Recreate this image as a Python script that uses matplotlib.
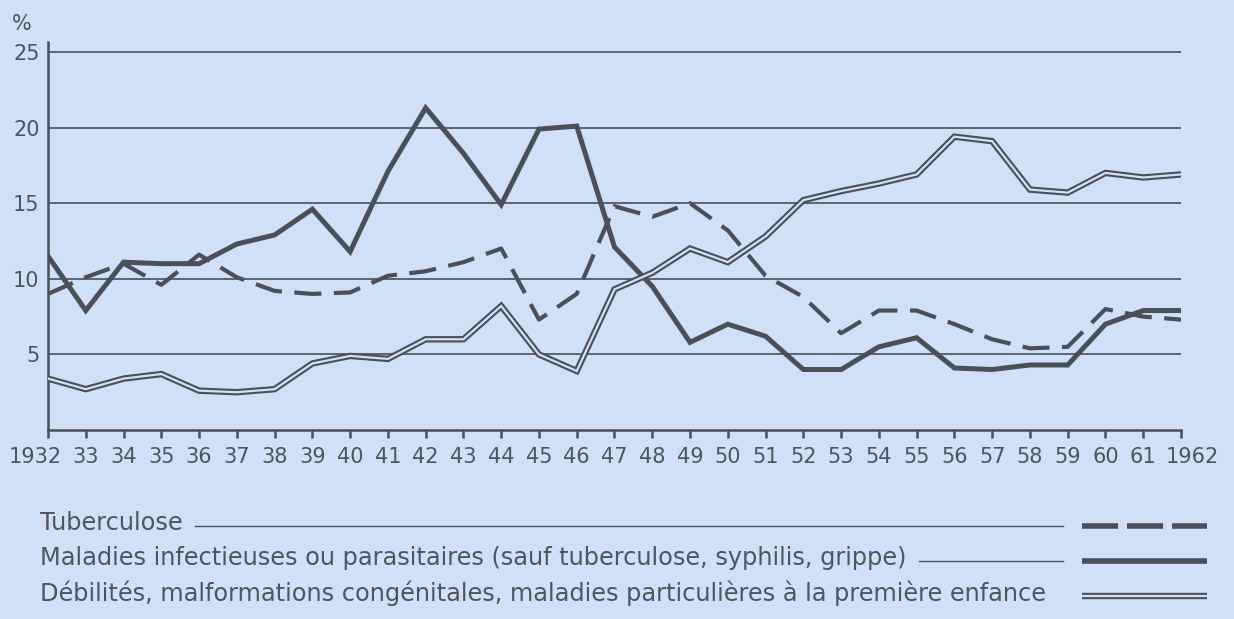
import matplotlib
matplotlib.use("Agg")
import matplotlib.pyplot as plt
from matplotlib.transforms import ScaledTranslation

years = list(range(1932, 1963))
tick_labels = ["1932"] + [f"{y % 100:02d}" for y in range(1933, 1962)] + ["1962"]

tuberculose = [9.0, 10.1, 11.0, 9.6, 11.6, 10.1, 9.2, 9.0, 9.1, 10.2,
               10.5, 11.1, 12.0, 7.3, 9.0, 14.8, 14.1, 15.0, 13.2, 10.2,
               8.8, 6.4, 7.9, 7.9, 7.0, 6.0, 5.4, 5.5, 8.0, 7.5, 7.3]
infectieuses = [11.5, 7.9, 11.1, 11.0, 11.0, 12.3, 12.9, 14.6, 11.8, 17.1,
                21.3, 18.3, 14.9, 19.9, 20.1, 12.1, 9.5, 5.8, 7.0, 6.2,
                4.0, 4.0, 5.5, 6.1, 4.1, 4.0, 4.3, 4.3, 7.0, 7.9, 7.9]
debilites = [3.4, 2.7, 3.4, 3.7, 2.6, 2.5, 2.7, 4.4, 4.9, 4.7,
             6.0, 6.0, 8.2, 5.0, 3.9, 9.3, 10.4, 12.0, 11.1, 12.8,
             15.2, 15.8, 16.3, 16.9, 19.4, 19.1, 15.9, 15.7, 17.0, 16.7, 16.9]

legend_labels = [
    "Tuberculose",
    "Maladies infectieuses ou parasitaires (sauf tuberculose, syphilis, grippe)",
    "Débilités, malformations congénitales, maladies particulières à la première enfance",
]
y_ticks = [5, 10, 15, 20, 25]

BG = "#d0e0f6"
INK = "#4b4f57"
TXT = "#50545c"
FONT = ["DejaVu Sans"]

plt.rcParams["font.family"] = FONT

W, H = 1234, 619
fig = plt.figure(figsize=(W / 100, H / 100), dpi=100, facecolor=BG)
ax = fig.add_axes([48 / W, 1 - 430 / H, (1181 - 48) / W, (430 - 42) / H])
ax.set_facecolor(BG)
ax.set_xlim(years[0], years[-1])
ax.set_ylim(0, 25.66)

for v in y_ticks:
    ax.axhline(v, color=INK, lw=1.2, zorder=1)

ax.plot(years, tuberculose, color=INK, lw=3.0, dashes=(6.5, 3.0),
        dash_capstyle="butt", zorder=3)
ax.plot(years, infectieuses, color=INK, lw=3.6, solid_joinstyle="miter", zorder=4)
ax.plot(years, debilites, color=INK, lw=4.6, solid_joinstyle="miter", zorder=5)
ax.plot(years, debilites, color=BG, lw=1.6, solid_joinstyle="miter", zorder=6)

for s in ["top", "right"]:
    ax.spines[s].set_visible(False)
for s in ["left", "bottom"]:
    ax.spines[s].set_color(INK)
    ax.spines[s].set_linewidth(1.8)

ax.set_yticks(y_ticks)
ax.set_yticklabels([str(v) for v in y_ticks])
ax.tick_params(axis="y", length=0, pad=6, labelsize=15, labelcolor=TXT)
ax.set_xticks(years)
ax.set_xticklabels(tick_labels)
ax.tick_params(axis="x", direction="out", length=6, width=1.8, color=INK,
               pad=6, labelsize=15, labelcolor=TXT)
xl = ax.get_xticklabels()
xl[0].set_transform(xl[0].get_transform() + ScaledTranslation(-0.13, 0, fig.dpi_scale_trans))
xl[-1].set_transform(xl[-1].get_transform() + ScaledTranslation(0.11, 0, fig.dpi_scale_trans))

fig.text(22 / W, 1 - 24 / H, "%", ha="center", va="center", fontsize=15, color=TXT)

# legend
rows_y = [523, 558, 593]
fig.canvas.draw()
renderer = fig.canvas.get_renderer()
for i, (lab, yy) in enumerate(zip(legend_labels, rows_y)):
    t = fig.text(40 / W, 1 - yy / H, lab, ha="left", va="center", fontsize=17.3, color=TXT)
    bb = t.get_window_extent(renderer)
    yf = 1 - (yy + 3) / H
    if i < 2:
        fig.add_artist(plt.Line2D([(bb.x1 + 12) / W, 1063 / W], [yf, yf],
                                  color=INK, lw=1.0, transform=fig.transFigure))
    xs = [1082 / W, 1207 / W]
    if i == 0:
        fig.add_artist(plt.Line2D(xs, [yf, yf], color=INK, lw=4.0, dashes=(6.5, 1.6),
                                  dash_capstyle="butt", transform=fig.transFigure))
    elif i == 1:
        fig.add_artist(plt.Line2D(xs, [yf, yf], color=INK, lw=4.0,
                                  solid_capstyle="butt", transform=fig.transFigure))
    else:
        fig.add_artist(plt.Line2D(xs, [yf, yf], color=INK, lw=4.6,
                                  solid_capstyle="butt", transform=fig.transFigure))
        fig.add_artist(plt.Line2D(xs, [yf, yf], color=BG, lw=1.6,
                                  solid_capstyle="butt", transform=fig.transFigure))

fig.savefig("out.png", dpi=100, facecolor=BG)
